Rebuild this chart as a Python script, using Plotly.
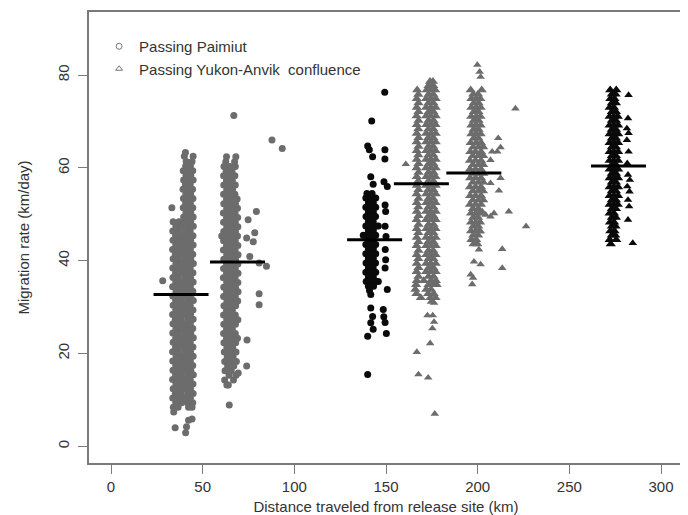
import plotly.graph_objects as go

# ---------------- data ----------------
# Dense parts are listed row by row: (migration rate km/day, [distances km of fish on that row])
# Sparse points are listed as (distance km, migration rate km/day)

paimiut_a_rows = [
    (8.4, [34.0, 36.6, 42.3, 44.2]),
    (9.4, [35.3, 38.5, 41.7, 44.6]),
    (10.4, [33.7, 36.9, 40.1, 43.3]),
    (11.4, [35.1, 38.3, 41.9, 44.8]),
    (12.4, [33.9, 37.0, 40.2, 43.4]),
    (13.4, [35.4, 38.6, 41.6, 44.7]),
    (14.4, [33.6, 36.8, 40.0, 43.2]),
    (15.4, [35.2, 38.4, 41.8, 44.9]),
    (16.4, [33.8, 37.1, 40.3, 43.5]),
    (17.4, [35.3, 38.7, 41.7, 44.6]),
    (18.4, [33.7, 36.9, 40.0, 43.3]),
    (19.4, [35.5, 38.5, 41.9, 44.8]),
    (20.4, [33.6, 36.7, 40.2, 43.4]),
    (21.4, [35.2, 38.4, 41.6, 44.7]),
    (22.4, [33.9, 37.0, 40.1, 43.2]),
    (23.4, [35.3, 38.6, 41.8, 44.9]),
    (24.4, [33.7, 36.8, 40.3, 43.5]),
    (25.4, [35.4, 38.5, 41.7, 44.6]),
    (26.4, [33.8, 36.9, 40.0, 43.3]),
    (27.4, [35.1, 38.3, 41.9, 44.8]),
    (28.4, [33.6, 37.1, 40.2, 43.4]),
    (29.4, [35.3, 38.7, 41.6, 44.7]),
    (30.4, [33.9, 36.8, 40.1, 43.2]),
    (31.4, [35.2, 38.4, 41.8, 44.9]),
    (32.4, [33.7, 37.0, 40.3, 43.5]),
    (33.4, [35.5, 38.6, 41.7, 44.6]),
    (34.4, [33.6, 36.9, 40.0, 43.3]),
    (35.4, [35.3, 38.5, 41.9, 44.8]),
    (36.4, [33.8, 36.7, 40.2, 43.4]),
    (37.4, [35.2, 38.3, 41.6, 44.7]),
    (38.4, [33.7, 37.1, 40.1, 43.2]),
    (39.4, [35.4, 38.6, 41.8, 44.9]),
    (40.4, [33.9, 36.8, 40.3, 43.5]),
    (41.4, [35.1, 38.4, 41.7, 44.6]),
    (42.4, [33.6, 37.0, 40.0, 43.3]),
    (43.4, [35.3, 38.7, 41.9, 44.8]),
    (44.4, [33.8, 36.9, 40.2, 43.4]),
    (45.4, [35.2, 38.5, 41.6, 44.7]),
    (46.4, [33.7, 36.7, 40.1, 43.2]),
    (47.4, [35.4, 38.4, 41.8, 44.9]),
    (48.4, [33.9, 37.0, 40.3, 43.5]),
    (49.4, [39.6, 42.2, 44.8]),
    (50.4, [40.9, 43.5]),
    (51.4, [33.2, 39.4, 42.0, 44.6]),
    (52.4, [40.7, 43.3]),
    (53.4, [39.5, 42.1, 44.7]),
    (54.4, [40.8, 43.4]),
    (55.4, [39.3, 41.9, 44.5]),
    (56.4, [40.6, 43.2]),
    (57.4, [39.6, 42.2, 44.8]),
    (58.4, [40.9, 43.5]),
    (59.4, [39.4, 42.0, 44.6]),
    (60.4, [40.7, 43.3]),
    (61.4, [41.0, 44.2]),
    (62.5, [40.0, 44.8]),
    (63.3, [40.6]),
]
paimiut_a_extra = [(28.2, 35.7), (35.0, 4.0), (40.7, 2.9), (41.2, 4.2), (42.3, 5.6),
                   (44.2, 5.9), (34.2, 7.4)]

paimiut_b_rows = [
    (13.2, [63.2]),
    (14.3, [62.0, 66.8]),
    (15.3, [64.4, 68.2]),
    (16.3, [62.2, 65.6]),
    (17.3, [63.6, 67.0]),
    (18.3, [62.0, 65.2, 68.4]),
    (19.3, [63.4, 66.6]),
    (20.3, [61.8, 65.0, 68.2]),
    (21.3, [63.2, 66.4]),
    (22.3, [61.6, 64.8, 68.0]),
    (23.3, [63.0, 66.2, 69.0]),
    (24.3, [61.4, 64.6, 67.8]),
    (25.3, [63.0, 66.2]),
    (26.3, [61.5, 64.7, 67.9]),
    (27.3, [63.1, 66.3, 69.2]),
    (28.3, [61.4, 64.6, 67.8]),
    (29.3, [63.0, 66.2]),
    (30.3, [61.6, 64.8, 68.0]),
    (31.3, [63.2, 66.4, 69.1]),
    (32.3, [61.4, 64.6, 67.8]),
    (33.3, [63.0, 66.2, 69.3]),
    (34.3, [61.5, 64.7, 67.9]),
    (35.3, [63.1, 66.3, 69.2]),
    (36.3, [61.3, 64.5, 67.7]),
    (37.3, [63.0, 66.2, 69.3]),
    (38.3, [61.4, 64.6, 67.8]),
    (39.3, [63.0, 66.2, 69.2]),
    (40.3, [61.5, 64.7, 67.9]),
    (41.3, [63.1, 66.3, 69.3]),
    (42.3, [61.3, 64.5, 67.7]),
    (43.3, [63.0, 66.2, 69.2]),
    (44.3, [61.4, 64.6, 67.8]),
    (45.3, [60.4, 63.0, 66.2, 69.0]),
    (46.3, [61.5, 64.7, 67.9]),
    (47.3, [63.1, 66.3, 69.2]),
    (48.3, [61.4, 64.6, 67.8]),
    (49.3, [63.0, 66.2, 69.1]),
    (50.3, [61.3, 64.5, 67.7]),
    (51.3, [63.1, 66.3, 69.0]),
    (52.3, [61.5, 64.7, 67.9]),
    (53.3, [63.0, 66.2, 68.8]),
    (54.3, [61.4, 64.6, 67.6]),
    (55.3, [63.1, 66.3]),
    (56.3, [61.5, 64.7, 67.8]),
    (57.3, [63.0, 66.2]),
    (58.3, [61.4, 64.6, 67.6]),
    (59.3, [62.8, 66.0]),
    (60.3, [61.6, 64.8, 67.8]),
    (61.3, [62.6, 67.4]),
    (62.4, [63.0, 68.1]),
]
paimiut_b_extra = [(67.0, 71.3), (87.8, 66.0), (93.4, 64.2), (74.8, 48.8), (79.3, 50.6),
                   (78.4, 46.0), (74.0, 44.9), (77.6, 44.1), (75.7, 40.9), (84.8, 38.8),
                   (80.8, 39.5), (80.8, 32.9), (80.8, 30.5), (74.2, 22.9), (74.0, 17.3),
                   (64.5, 8.9), (69.4, 15.8), (64.0, 13.2)]

paimiut_c_rows = [
    (54.5, [139.6, 142.4]),
    (53.5, [139.0, 141.8, 144.4]),
    (52.5, [140.4, 143.1]),
    (51.5, [139.0, 141.8, 144.4]),
    (50.5, [140.4, 143.1]),
    (49.5, [139.1, 141.8, 144.3]),
    (48.5, [140.4, 143.0]),
    (47.5, [139.0, 141.8, 144.4, 145.8]),
    (46.5, [140.4, 143.1]),
    (45.5, [137.6, 139.0, 141.8, 144.4]),
    (44.5, [140.4, 143.1]),
    (43.5, [139.0, 141.8, 144.4]),
    (42.5, [140.4, 143.1]),
    (41.5, [139.0, 141.8, 144.4]),
    (40.5, [140.4, 143.1]),
    (39.5, [139.1, 141.8, 144.3]),
    (38.5, [140.4, 143.0]),
    (37.5, [139.0, 141.8, 144.4]),
    (36.5, [140.4, 143.1]),
    (35.5, [139.2, 141.8, 144.6, 145.8]),
    (34.5, [140.4, 143.2]),
    (33.6, [141.0]),
]
paimiut_c_extra = [(149.3, 76.3), (142.2, 70.1), (140.0, 64.7), (140.9, 63.9), (142.7, 62.4),
                   (149.4, 63.9), (149.4, 61.9), (141.7, 58.1), (143.0, 56.5), (148.9, 57.0),
                   (150.7, 56.0), (149.5, 52.0), (149.8, 50.6), (149.5, 47.4), (150.0, 45.2),
                   (149.6, 42.4), (149.8, 40.2), (149.5, 38.4), (150.7, 33.8), (141.7, 32.7),
                   (141.7, 29.8), (148.5, 29.5), (142.7, 28.0), (148.8, 27.9), (141.7, 26.6),
                   (149.5, 26.7), (143.0, 25.2), (140.0, 23.7), (150.2, 24.3), (140.0, 15.5)]

anvik_a_rows = [
    (78.6, [174.0, 175.6]),
    (77.7, [173.2, 175.8]),
    (76.8, [167.0, 172.2, 174.5, 176.8]),
    (75.8, [167.6, 173.2, 175.8]),
    (74.9, [166.8, 171.9, 174.5, 177.1]),
    (74.0, [167.7, 173.2, 175.8]),
    (73.0, [166.8, 171.9, 174.5, 177.1]),
    (72.1, [167.7, 173.3, 175.8]),
    (71.2, [166.7, 171.9, 174.4, 177.1]),
    (70.2, [167.7, 173.2, 175.9]),
    (69.3, [166.8, 172.0, 174.5, 177.0]),
    (68.4, [167.6, 173.2, 175.8]),
    (67.4, [166.8, 171.9, 174.6, 177.1]),
    (66.5, [167.7, 173.1, 175.8]),
    (65.6, [166.7, 171.9, 174.5, 177.1]),
    (64.6, [167.7, 173.2, 175.7]),
    (63.7, [166.8, 172.0, 174.5, 177.0]),
    (62.8, [167.6, 173.2, 175.8]),
    (61.8, [166.8, 171.9, 174.4, 177.1]),
    (60.9, [167.7, 173.3, 175.8]),
    (60.0, [166.7, 171.9, 174.5, 177.1]),
    (59.0, [167.7, 173.2, 175.9]),
    (58.1, [166.8, 172.0, 174.5, 177.0]),
    (57.2, [167.6, 173.2, 175.8]),
    (56.2, [166.8, 171.9, 174.6, 177.1]),
    (55.3, [167.7, 173.1, 175.8]),
    (54.4, [166.7, 171.9, 174.5, 177.1]),
    (53.4, [167.7, 173.2, 175.7]),
    (52.5, [166.8, 172.0, 174.5, 177.0]),
    (51.6, [167.6, 173.2, 175.8]),
    (50.6, [166.8, 171.9, 174.4, 177.1]),
    (49.7, [167.7, 173.3, 175.8]),
    (48.8, [166.7, 171.9, 174.5, 177.1]),
    (47.8, [167.7, 173.2, 175.9]),
    (46.9, [166.8, 172.0, 174.5, 177.0]),
    (46.0, [167.6, 173.2, 175.8]),
    (45.0, [166.8, 171.9, 174.6, 177.1]),
    (44.1, [167.7, 173.1, 175.8]),
    (43.2, [166.7, 171.9, 174.5, 177.1]),
    (42.2, [167.7, 173.2, 175.7]),
    (41.3, [166.8, 172.0, 174.5, 177.0]),
    (40.4, [167.6, 173.2, 175.8]),
    (39.4, [166.8, 171.9, 174.4, 177.1]),
    (38.5, [167.7, 173.3, 175.8]),
    (37.6, [166.7, 171.9, 174.5, 177.1]),
    (36.6, [167.7, 173.2, 175.9]),
    (35.7, [166.8, 170.6, 174.5, 177.2]),
    (34.8, [166.4, 173.2, 175.8, 177.6]),
    (33.8, [166.0, 172.0, 174.6]),
    (32.9, [166.6, 173.0, 176.0]),
    (32.0, [169.0, 174.2, 177.0]),
    (31.2, [175.0]),
]
anvik_a_extra = [(160.8, 60.8), (176.2, 30.9), (172.6, 28.2), (175.5, 28.2), (176.2, 26.8),
                 (175.3, 25.4), (174.1, 22.2), (166.8, 20.3), (167.7, 15.5), (173.0, 14.8),
                 (176.6, 7.0)]

anvik_b_rows = [
    (76.8, [196.2, 202.2]),
    (75.9, [197.6, 200.2]),
    (74.9, [196.6, 199.2, 201.4]),
    (74.0, [197.9, 200.5]),
    (73.0, [196.6, 199.2, 201.6]),
    (72.1, [197.9, 200.4]),
    (71.1, [196.5, 199.2, 201.5]),
    (70.2, [197.9, 200.5]),
    (69.2, [196.6, 199.1, 201.6]),
    (68.3, [197.8, 200.5]),
    (67.3, [196.6, 199.2, 201.6]),
    (66.4, [197.9, 200.4]),
    (65.4, [196.2, 199.2, 201.8]),
    (64.5, [197.6, 200.5, 203.0]),
    (63.5, [196.0, 198.8, 201.8]),
    (62.6, [197.4, 200.5, 203.0]),
    (61.6, [195.8, 198.8, 201.8]),
    (60.7, [197.4, 200.5, 203.0]),
    (59.7, [195.8, 198.8, 201.8]),
    (58.8, [197.4, 200.5, 203.1]),
    (57.8, [195.9, 198.8, 201.8]),
    (56.9, [197.4, 200.5, 203.0]),
    (55.9, [195.8, 198.8, 201.8]),
    (55.0, [197.4, 200.5, 202.9]),
    (54.0, [195.9, 198.8, 201.8]),
    (53.1, [197.4, 200.5, 203.0]),
    (52.1, [195.8, 198.8, 201.8]),
    (51.2, [197.4, 200.4]),
    (50.2, [196.4, 199.0, 201.2]),
    (49.3, [197.6, 200.2]),
    (48.3, [196.4, 199.0, 201.3]),
    (47.4, [197.6, 200.3]),
    (46.4, [196.4, 199.0, 201.0]),
    (45.5, [197.6, 200.2]),
    (44.5, [196.6, 199.2]),
    (43.6, [197.8, 199.8]),
]
anvik_b_extra = [(199.8, 82.2), (201.1, 80.7), (201.6, 79.6), (220.6, 72.8), (211.2, 66.4),
                 (212.5, 64.4), (210.7, 63.5), (207.9, 63.5), (207.0, 61.7), (207.0, 56.7),
                 (212.5, 57.8), (211.6, 55.1), (202.5, 50.6), (204.3, 49.9), (208.9, 50.2),
                 (207.0, 49.5), (217.0, 50.6), (226.4, 47.4), (201.6, 46.3), (200.7, 42.4),
                 (213.4, 42.5), (198.0, 39.8), (201.6, 39.2), (213.4, 38.4), (196.2, 37.0),
                 (197.5, 36.3), (197.0, 34.9)]

anvik_c_rows = [
    (76.8, [272.3, 275.6]),
    (75.9, [273.2, 275.2]),
    (74.9, [272.4, 274.6]),
    (74.0, [273.2, 275.4]),
    (73.0, [272.0, 274.3]),
    (72.1, [273.2, 275.4]),
    (71.1, [272.0, 274.3, 276.4]),
    (70.2, [273.2, 275.4]),
    (69.2, [272.0, 274.3, 276.6]),
    (68.3, [273.2, 275.4]),
    (67.3, [272.0, 274.3, 276.6]),
    (66.4, [273.2, 275.4]),
    (65.4, [272.0, 274.3, 276.6]),
    (64.5, [273.2, 275.4]),
    (63.5, [272.0, 274.3, 276.6]),
    (62.6, [273.2, 275.4]),
    (61.6, [272.0, 274.3, 276.6]),
    (60.7, [273.2, 275.4]),
    (59.7, [272.0, 274.3, 276.6]),
    (58.8, [273.2, 275.4]),
    (57.8, [272.0, 274.3, 276.6]),
    (56.9, [273.2, 275.4]),
    (55.9, [272.0, 274.3, 276.6]),
    (55.0, [273.2, 275.4]),
    (54.0, [272.0, 274.3, 276.6]),
    (53.1, [273.2, 275.4]),
    (52.1, [272.0, 274.3, 276.4]),
    (51.2, [273.2, 275.4]),
    (50.2, [272.0, 274.3]),
    (49.3, [273.2, 275.4]),
    (48.3, [272.2, 274.4]),
    (47.4, [273.2, 275.2]),
    (46.4, [272.4, 274.6]),
    (45.5, [273.2, 275.0]),
    (44.5, [272.0, 275.6]),
    (43.6, [272.6]),
]
anvik_c_extra = [(282.3, 75.7), (282.0, 70.7), (281.4, 68.5), (282.3, 67.5), (281.4, 66.0),
                 (282.3, 63.5), (281.6, 61.0), (282.0, 58.5), (283.0, 57.4), (281.6, 56.0),
                 (282.8, 54.9), (282.0, 53.1), (282.6, 51.7), (282.0, 48.8), (284.6, 43.8)]

# group centre (km) and mean migration rate (km/day) shown as black bars
group_centers = [38.2, 69.0, 143.8, 169.3, 197.9, 276.8]
group_means = [32.7, 39.7, 44.5, 56.6, 58.9, 60.4]

x_ticks = [0, 50, 100, 150, 200, 250, 300]
y_ticks = [0, 20, 40, 60, 80]

legend_labels = ["Passing Paimiut", "Passing Yukon-Anvik  confluence"]
x_title = "Distance traveled from release site (km)"
y_title = "Migration rate (km/day)"

# ---------------- styling ----------------
GREY = "#6c6c6c"
BLACK = "#0a0a0a"
AXIS = "#7a7a7a"
TEXT = "#333333"
FONT = "Liberation Sans, Arial, sans-serif"
BAR_HALF = 15
PAGE_OFFSET = 8  # the page body adds an 8 px margin around the figure


def expand(rows):
    xs, ys = [], []
    for y, row in rows:
        for x in row:
            xs.append(x)
            ys.append(y)
    return xs, ys


fig = go.Figure()


def add_points(xs, ys, symbol, color, size):
    fig.add_trace(go.Scatter(x=xs, y=ys, mode="markers", showlegend=False, hoverinfo="skip",
                             marker=dict(symbol=symbol, color=color, size=size,
                                         line=dict(width=0))))


def dense(*rows_lists):
    xs, ys = [], []
    for rows in rows_lists:
        a, b = expand(rows)
        xs += a
        ys += b
    return xs, ys


def sparse(*pair_lists):
    xs, ys = [], []
    for pairs in pair_lists:
        xs += [p[0] for p in pairs]
        ys += [p[1] for p in pairs]
    return xs, ys


add_points(*dense(paimiut_a_rows, paimiut_b_rows), "circle", GREY, 7)
add_points(*sparse(paimiut_a_extra, paimiut_b_extra), "circle", GREY, 7)
add_points(*dense(anvik_a_rows, anvik_b_rows), "triangle-up", GREY, 9)
add_points(*sparse(anvik_a_extra, anvik_b_extra), "triangle-up", GREY, 7.5)
add_points(*dense(paimiut_c_rows), "circle", BLACK, 7)
add_points(*sparse(paimiut_c_extra), "circle", BLACK, 7)
add_points(*dense(anvik_c_rows), "triangle-up", BLACK, 9)
add_points(*sparse(anvik_c_extra), "triangle-up", BLACK, 7.5)

# mean bars
bx, by = [], []
for c, m in zip(group_centers, group_means):
    bx += [c - BAR_HALF, c + BAR_HALF, None]
    by += [m, m, None]
fig.add_trace(go.Scatter(x=bx, y=by, mode="lines", showlegend=False, hoverinfo="skip",
                         line=dict(color="black", width=3)))

# legend entries
fig.add_trace(go.Scatter(x=[None], y=[None], mode="markers", name=legend_labels[0],
                         marker=dict(symbol="circle-open", color="#777777", size=6,
                                     line=dict(width=1))))
fig.add_trace(go.Scatter(x=[None], y=[None], mode="markers", name=legend_labels[1],
                         marker=dict(symbol="triangle-up-open", color="#777777", size=6,
                                     line=dict(width=1))))

axis_common = dict(showgrid=False, zeroline=False, showline=True, mirror=True,
                   linecolor=AXIS, linewidth=1.5, ticks="outside", tickcolor=AXIS,
                   tickwidth=1, ticklen=9, automargin=False,
                   tickfont=dict(family=FONT, size=15, color=TEXT))

fig.update_layout(
    width=688 - PAGE_OFFSET, height=515 - PAGE_OFFSET,
    margin=dict(l=89 - PAGE_OFFSET, r=5, t=12 - PAGE_OFFSET, b=52, autoexpand=False),
    paper_bgcolor="white", plot_bgcolor="white",
    font=dict(family=FONT, color=TEXT),
    xaxis=dict(range=[-12, 312], tickvals=x_ticks, **axis_common,
               title=dict(text=x_title, font=dict(family=FONT, size=15, color=TEXT), standoff=9)),
    yaxis=dict(range=[-3.6, 93.6], tickvals=y_ticks, tickangle=-90, ticklabelstandoff=3,
               **axis_common,
               title=dict(text=y_title, font=dict(family=FONT, size=15, color=TEXT), standoff=22)),
    legend=dict(x=0.017, y=0.960, xanchor="left", yanchor="top", bgcolor="rgba(0,0,0,0)",
                font=dict(family=FONT, size=15, color=TEXT), itemwidth=30),
    showlegend=True,
)

fig.write_html("out.html")
